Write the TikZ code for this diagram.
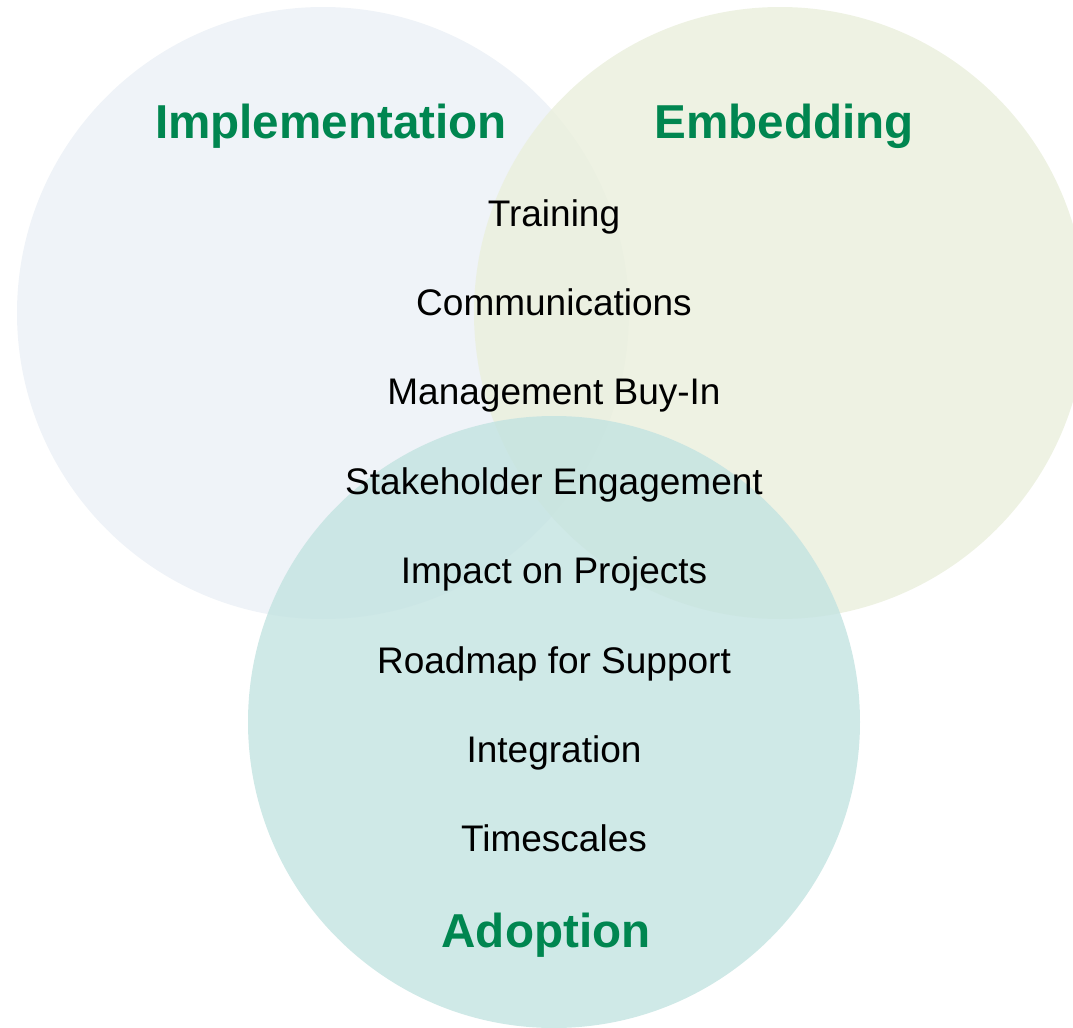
\documentclass[tikz,border=0pt]{standalone}
\usepackage{fontspec}
\setmainfont{Liberation Sans}
\usetikzlibrary{positioning}

\definecolor{implfill}{RGB}{235,240,246}
\definecolor{embfill}{RGB}{234,239,220}
\definecolor{adopfill}{RGB}{195,227,225}
\definecolor{headgreen}{RGB}{0,134,80}

\begin{document}
\begin{tikzpicture}[x=0.5pt, y=-0.5pt,
    node distance=44.7pt, on grid,
    set/.style={circle, minimum size=306pt, inner sep=0pt, fill opacity=0.8},
    head/.style={text=headgreen, font=\fontsize{23.8}{28}\selectfont\bfseries},
    item/.style={font=\fontsize{18.5}{22}\selectfont,
                 text height=0.72em, text depth=0.21em}]
   \useasboundingbox (0,0) rectangle (1073,1028);
   % the three sets
   \node [set, fill=implfill] (impl) at (323,313) {};
   \node [set, fill=embfill]  (emb)  at (780,313) {};
   \node [set, fill=adopfill] (adop) at (554,722) {};
   % headings
   \node [head] (implhead) at (331,126) {Implementation};
   \node [head] (embhead)  at (784,126) {Embedding};
   \node [head] (adophead) at (546,935) {Adoption};
   % common items
   \node [item] (train) at (554,221)     {Training};
   \node [item, below=of train] (comm)   {Communications};
   \node [item, below=of comm]  (mgmt)   {Management Buy-In};
   \node [item, below=of mgmt]  (stake)  {Stakeholder Engagement};
   \node [item, below=of stake] (impact) {Impact on Projects};
   \node [item, below=of impact] (road)  {Roadmap for Support};
   \node [item, below=of road]  (integ)  {Integration};
   \node [item, below=of integ] (time)   {Timescales};
\end{tikzpicture}
\end{document}
